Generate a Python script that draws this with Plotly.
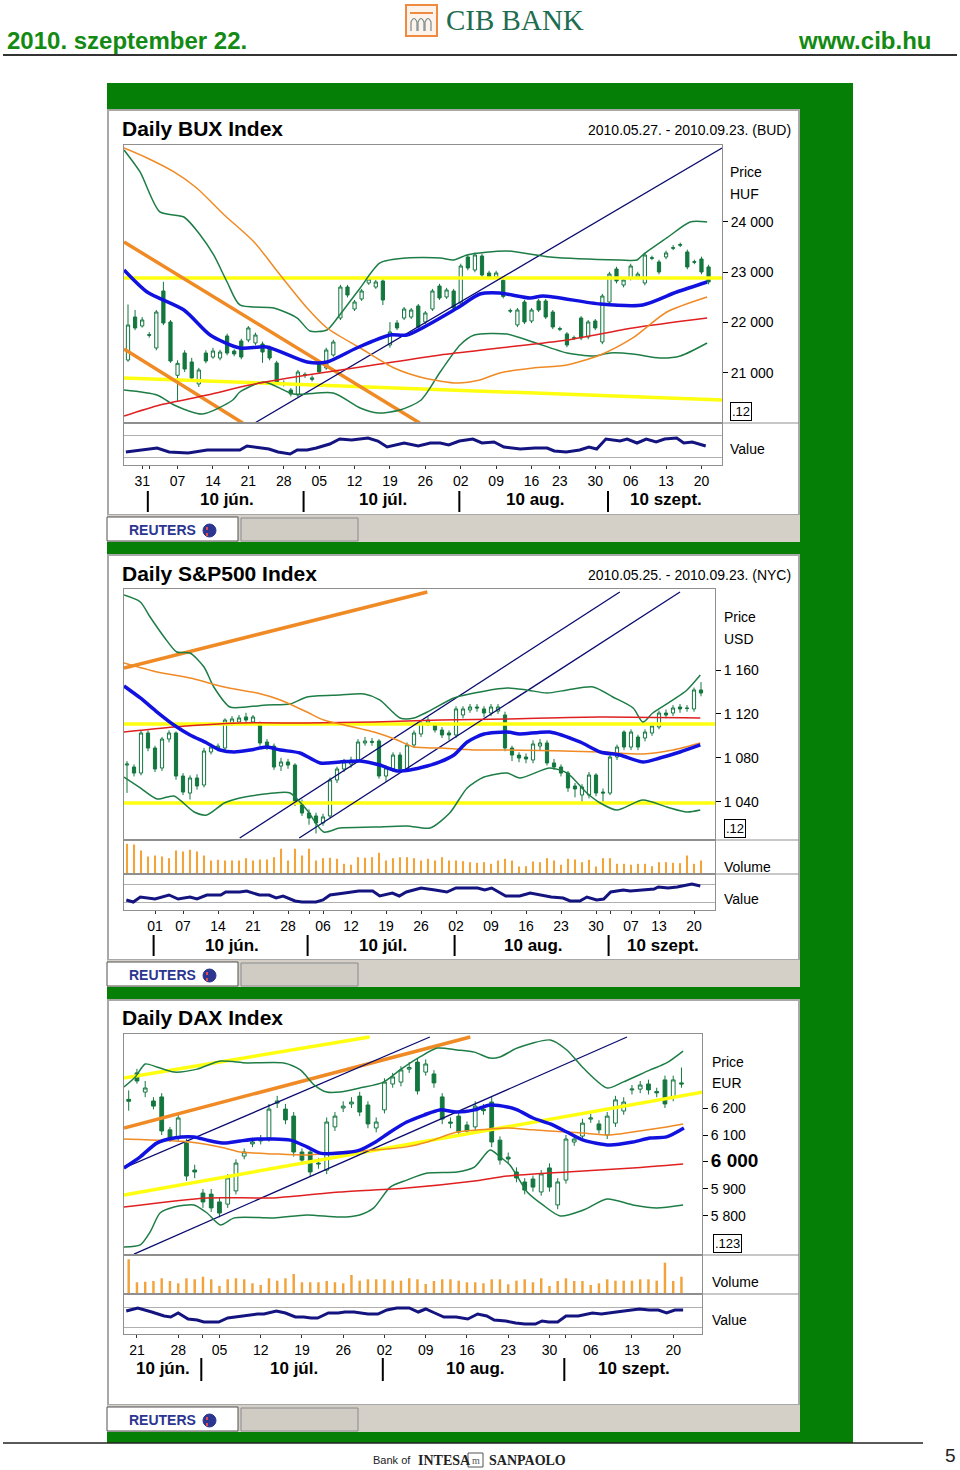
import plotly.graph_objects as go

W, H = 960, 1470
FONT = "Liberation Sans, Arial, sans-serif"
SERIF = "Liberation Serif, Times New Roman, serif"


def X(px):
    return px / W


def Y(py):
    return 1 - py / H


# ======================= BUX DATA =======================
bux_open = [21256, 22111, 21933, 21760, 21495, 22628, 22012, 20952, 21395, 21217,
            20780, 21395, 21316, 21296, 21734, 21435, 21634, 21654, 21594, 21575,
            21495, 21197, 20800, 20660, 20560, 20950, 20870, 21177, 21098, 21356,
            22091, 22707, 22270, 22469, 22787, 22707, 22827, 21555, 21992, 22091,
            22111, 22330, 22012, 22270, 22727, 22509, 22628, 22390, 23304, 23045,
            23324, 22986, 22906, 22840, 22240, 21953, 22409, 22032, 22429, 22429,
            22210, 21880, 21774, 21700, 22091, 21714, 22032, 21614, 22409, 23065,
            22747, 22886, 22906, 22787, 23290, 23205, 23304, 23490, 23550, 23404,
            23210, 23264, 23106]
bux_close = [21952, 21893, 22052, 21750, 22210, 21992, 21236, 21190, 21077, 20899,
             21058, 21236, 21435, 21415, 21395, 21376, 21316, 21893, 21753, 21415,
             21296, 20819, 20780, 20580, 21018, 20970, 20900, 21018, 21455, 21614,
             22707, 22548, 22409, 22628, 22866, 22807, 22449, 21813, 21893, 22270,
             22250, 21913, 22191, 22628, 22489, 22648, 22290, 23125, 23085, 23344,
             22946, 22906, 22986, 22520, 22230, 22250, 22012, 22250, 22250, 22111,
             21913, 21870, 21555, 21690, 21694, 22012, 21893, 22528, 22966, 22827,
             22847, 23125, 22966, 23344, 23280, 23006, 23384, 23480, 23540, 23105,
             23200, 23006, 22807]
bux_high = [22360, 22250, 22110, 21810, 22250, 22810, 22050, 21250, 21450, 21300,
            21100, 21450, 21500, 21460, 21780, 21470, 21680, 21930, 21800, 21620,
            21540, 21240, 20850, 20700, 21060, 21010, 20950, 21220, 21500, 21660,
            22750, 22750, 22450, 22670, 22910, 22850, 22870, 22010, 22050, 22310,
            22290, 22370, 22230, 22670, 22770, 22690, 22670, 23170, 23350, 23390,
            23370, 23030, 23030, 22880, 22280, 22290, 22450, 22290, 22470, 22470,
            22250, 21920, 21810, 21740, 22130, 22050, 22070, 22570, 23010, 23110,
            22890, 23170, 23010, 23390, 23330, 23250, 23430, 23540, 23590, 23450,
            23250, 23310, 23150]
bux_low = [21220, 21850, 21900, 21700, 21450, 21950, 21200, 20420, 21020, 20850,
           20720, 21190, 21280, 21250, 21350, 21330, 21270, 21610, 21550, 21200,
           21250, 20770, 20730, 20530, 20510, 20900, 20830, 20980, 21060, 21320,
           22050, 22500, 22230, 22430, 22750, 22670, 22350, 21500, 21850, 22050,
           22070, 21870, 21970, 22230, 22450, 22470, 22250, 22350, 23040, 23000,
           22900, 22870, 22870, 22480, 22190, 21910, 21970, 21990, 22210, 22070,
           21870, 21830, 21510, 21650, 21650, 21670, 21850, 21570, 22370, 22780,
           22700, 22840, 22860, 22740, 23240, 22960, 23260, 23440, 23500, 23060,
           23160, 22960, 22760]

bux_blue_x = [-0.56, 2.7, 7.9, 11.6, 15.8, 19.6, 25.3, 28.1, 32.3, 37.0, 39.4, 46.5, 49.7, 52.5, 56.8, 58.6, 66.7, 72.7, 77.5, 81.8]
bux_blue_y = [23045, 22608, 22250, 21753, 21495, 21515, 21217, 21217, 21495, 21753, 21753, 22290, 22568, 22588, 22489, 22528, 22369, 22350, 22608, 22807]
bux_orange_x = [-0.56, 2.7, 6.5, 9.7, 13.6, 17.8, 21.5, 25.3, 28.1, 32.8, 37.6, 41.8, 46.5, 49.7, 52.5, 57.2, 62.0, 66.7, 71.3, 76.1, 81.8]
bux_orange_y = [25471, 25272, 24994, 24676, 24139, 23602, 22946, 22290, 21893, 21495, 21097, 20899, 20799, 20859, 20998, 21097, 21157, 21356, 21694, 22210, 22509]
bux_red_x = [-0.56, 4.5, 11.2, 17.2, 25.3, 34.7, 44.1, 52.5, 62.0, 71.3, 81.8]
bux_red_y = [20143, 20362, 20560, 20759, 20958, 21157, 21356, 21495, 21654, 21893, 22091]
bux_up_x = [-0.56, 1.7, 4.5, 7.9, 10.2, 12.1, 14.0, 15.8, 20.6, 23.9, 25.7, 28.1, 29.9, 32.8, 35.6, 39.4, 44.1, 46.0, 47.9, 53.5, 59.6, 69.5, 71.9, 72.7, 76.1, 79.4, 81.8]
bux_up_y = [25431, 24994, 24199, 24099, 23741, 23344, 22807, 22350, 22290, 22091, 21833, 21853, 22151, 22688, 23185, 23284, 23284, 23244, 23344, 23423, 23304, 23244, 23244, 23344, 23682, 24000, 24000]
bux_lo_x = [-0.56, 4.1, 6.5, 10.5, 14.8, 15.8, 19.2, 23.4, 29.0, 32.8, 35.3, 38.4, 41.4, 44.1, 46.9, 48.9, 53.5, 57.2, 62.0, 65.7, 68.1, 71.3, 75.1, 78.0, 81.8]
bux_lo_y = [20660, 20560, 20362, 20183, 20461, 20620, 20819, 20580, 20600, 20302, 20203, 20262, 20461, 21018, 21555, 21753, 21773, 21614, 21396, 21336, 21396, 21376, 21296, 21336, 21594]
# trend lines (start/end in day index and price)
bux_yellow1 = ([-0.56, 83.9], [22886, 22886])
bux_yellow2 = ([-0.56, 83.9], [20899, 20461])
bux_orange1 = ([-0.56, 41.2], [23602, 20004])
bux_orange2 = ([-0.56, 16.2], [21475, 20004])
bux_navy1 = ([17.9, 83.9], [20004, 25471])
bux_marks = [(24000, "#1e7d46", "diamond"), (22787, "#1010e0", "diamond"), (21594, "#1e7d46", "diamond")]
bux_value_x = [-0.3, 2.4, 4.1, 5.8, 8.5, 11.2, 15.8, 16.8, 19.9, 21.2, 22.9, 23.9, 25.3, 26.6, 28.5, 29.9, 31.6, 33.9, 35.3, 36.6, 39.0, 41.0, 42.7, 44.1, 45.3, 46.8, 48.7, 50.0, 51.7, 53.1, 55.4, 57.5, 59.2, 60.2, 61.9, 63.8, 65.1, 66.2, 67.5, 69.5, 70.5, 71.9, 73.2, 74.6, 75.8, 77.5, 78.5, 79.7, 81.6]
bux_value_y = [13, 15, 17, 13, 12, 15, 15, 19, 16, 13, 11, 15, 15, 17, 21, 26, 25, 27, 24, 18, 22, 19, 22, 22, 20, 24, 26, 22, 23, 18, 16, 17, 17, 14, 13, 15, 18, 16, 26, 24, 26, 22, 26, 23, 26, 27, 22, 23, 19]
bux_tick_idx = [2, 7, 12, 17, 22, 27, 32, 37, 42, 47, 52, 57, 61, 66, 71, 76, 81]
bux_tick_txt = ["31", "07", "14", "21", "28", "05", "12", "19", "26", "02", "09", "16", "23", "30", "06", "13", "20"]
bux_month_start = [3, 25, 47, 68]
bux_price_ticks = [24000, 23000, 22000, 21000]
bux_price_text = ["24 000", "23 000", "22 000", "21 000"]

# ======================= S&P 500 DATA =======================
spx_open = [1073.4, 1071.6, 1066.1, 1102.6, 1088.9, 1070.7, 1097.1, 1102.6, 1063.4, 1047.9,
            1061.6, 1055.2, 1085.3, 1088.9, 1088.9, 1111.7, 1112.6, 1117.2, 1112.6, 1110.8,
            1094.4, 1090.7, 1072.5, 1076.2, 1073.4, 1039.7, 1029.7, 1027.0, 1020.6, 1027.0,
            1059.8, 1069.8, 1074.3, 1078.0, 1093.5, 1093.9, 1095.3, 1063.4, 1069.8, 1082.5,
            1069.8, 1091.7, 1101.7, 1111.7, 1109.9, 1105.3, 1102.6, 1100.8, 1119.0, 1123.6,
            1126.3, 1124.5, 1120.8, 1122.6, 1119.0, 1088.9, 1082.5, 1080.7, 1078.0, 1090.7,
            1093.5, 1075.3, 1071.6, 1066.1, 1054.3, 1046.1, 1046.1, 1064.3, 1048.8, 1047.9,
            1080.7, 1103.5, 1089.8, 1098.9, 1098.0, 1102.6, 1108.1, 1120.8, 1120.8, 1126.3,
            1125.4, 1124.5, 1141.8]
spx_close = [1074.3, 1066.1, 1102.6, 1088.9, 1069.8, 1097.1, 1102.6, 1063.4, 1048.8, 1061.6,
             1054.3, 1086.2, 1089.8, 1090.7, 1114.4, 1115.4, 1116.3, 1114.4, 1117.2, 1093.5,
             1089.8, 1071.6, 1076.2, 1073.4, 1038.8, 1029.7, 1025.1, 1020.6, 1026.1, 1059.8,
             1069.8, 1076.2, 1078.0, 1094.4, 1095.3, 1095.0, 1063.4, 1070.7, 1082.5, 1069.8,
             1091.7, 1102.6, 1111.7, 1114.4, 1105.3, 1100.8, 1100.8, 1124.5, 1124.5, 1126.3,
             1125.4, 1120.8, 1126.3, 1126.3, 1088.9, 1082.5, 1079.8, 1078.9, 1092.6, 1093.5,
             1075.3, 1071.6, 1066.1, 1052.5, 1051.6, 1053.4, 1064.3, 1047.9, 1047.9, 1080.7,
             1089.8, 1089.8, 1103.5, 1089.8, 1103.5, 1109.0, 1120.8, 1119.0, 1125.4, 1124.5,
             1125.0, 1141.8, 1139.0]
spx_high = [1077, 1074, 1105, 1105, 1091, 1099, 1105, 1104, 1066, 1064,
            1065, 1089, 1092, 1093, 1116, 1118, 1119, 1121, 1119, 1113,
            1097, 1093, 1080, 1079, 1075, 1042, 1033, 1030, 1029, 1062,
            1072, 1079, 1081, 1097, 1099, 1098, 1097, 1073, 1085, 1085,
            1094, 1105, 1114, 1117, 1112, 1108, 1105, 1127, 1127, 1129,
            1129, 1127, 1129, 1129, 1122, 1091, 1085, 1084, 1096, 1097,
            1096, 1079, 1074, 1068, 1057, 1056, 1067, 1066, 1052, 1083,
            1092, 1105, 1106, 1101, 1106, 1112, 1123, 1124, 1128, 1129,
            1128, 1144, 1149]
spx_low = [1048, 1063, 1064, 1086, 1067, 1068, 1094, 1060, 1046, 1042,
           1051, 1053, 1083, 1086, 1087, 1109, 1110, 1112, 1110, 1091,
           1087, 1069, 1068, 1070, 1036, 1027, 1019, 1011, 1018, 1025,
           1057, 1067, 1071, 1076, 1091, 1091, 1061, 1058, 1067, 1067,
           1067, 1089, 1099, 1109, 1103, 1098, 1096, 1098, 1116, 1121,
           1122, 1117, 1118, 1120, 1086, 1077, 1076, 1075, 1075, 1087,
           1073, 1069, 1063, 1049, 1044, 1040, 1043, 1045, 1040, 1046,
           1078, 1087, 1087, 1087, 1095, 1100, 1106, 1116, 1118, 1121,
           1122, 1122, 1136]
spx_volume = [2.97, 2.9, 2.3, 1.7, 1.8, 1.7, 1.53, 2.3, 2.2, 2.37,
              2.2, 1.8, 1.3, 1.37, 1.3, 1.3, 1.3, 1.53, 1.3, 1.4,
              1.4, 1.63, 2.47, 1.3, 2.47, 1.8, 2.47, 1.3, 1.53, 1.57,
              1.47, 0.97, 0.87, 1.63, 1.57, 1.63, 2.07, 1.3, 1.53, 1.63,
              1.63, 1.53, 1.3, 1.47, 1.3, 1.63, 1.3, 1.3, 1.23, 1.13,
              1.07, 1.13, 0.97, 1.3, 1.47, 1.3, 0.7, 0.73, 1.2, 1.13,
              1.53, 1.3, 0.87, 1.47, 1.4, 1.13, 1.37, 0.7, 1.53, 1.53,
              0.97, 0.97, 0.87, 0.97, 0.97, 0.73, 1.13, 1.13, 1.07, 1.03,
              1.8, 0.97, 1.3]
spx_blue_x = [-0.43, 1.9, 4.3, 6.7, 9.0, 11.4, 13.3, 15.3, 17.6, 20.0, 21.9, 24.7, 27.6, 30.4, 33.3, 36.1, 38.6, 40.4, 42.9, 44.7, 46.7, 48.6, 51.0, 54.3, 56.1, 60.4, 64.7, 67.6, 70.4, 73.7, 76.1, 79.0, 81.9]
spx_blue_y = [1145.4, 1134.5, 1121.7, 1109.9, 1100.8, 1093.5, 1087.1, 1085.3, 1087.1, 1089.8, 1087.1, 1084.4, 1075.3, 1076.2, 1077.1, 1073.4, 1068.0, 1068.9, 1072.5, 1076.2, 1082.5, 1094.4, 1101.7, 1103.5, 1101.7, 1103.5, 1094.4, 1085.3, 1082.5, 1076.2, 1079.8, 1085.3, 1091.7]
spx_orange_x = [-0.43, 4.3, 9.0, 13.9, 18.6, 21.9, 25.7, 28.1, 30.4, 35.3, 38.6, 41.0, 44.7, 49.6, 54.3, 67.6, 73.7, 78.0, 81.9]
spx_orange_y = [1166.4, 1158.2, 1152.7, 1144.5, 1139.0, 1132.7, 1121.7, 1114.4, 1110.8, 1103.5, 1096.2, 1089.8, 1088.9, 1087.1, 1087.1, 1085.3, 1083.5, 1087.1, 1093.5]
spx_red_x = [-0.43, 6.7, 16.1, 25.7, 35.3, 44.7, 54.3, 67.6, 81.9]
spx_red_y = [1103.5, 1108.1, 1111.7, 1111.7, 1112.6, 1114.4, 1115.4, 1117.2, 1116.3]
spx_up_x = [-0.43, 1.9, 3.3, 5.3, 7.1, 9.0, 11.0, 12.4, 14.7, 17.1, 20.0, 23.3, 25.7, 30.4, 33.9, 36.1, 39.0, 41.0, 42.9, 46.7, 49.6, 54.3, 57.1, 60.0, 62.9, 66.6, 69.4, 72.3, 73.7, 75.1, 78.0, 80.0, 81.9]
spx_up_y = [1228.3, 1222.0, 1208.3, 1190.1, 1176.4, 1175.5, 1162.7, 1144.5, 1126.3, 1126.3, 1128.1, 1129.0, 1135.4, 1137.2, 1138.1, 1132.7, 1116.3, 1116.3, 1121.7, 1134.5, 1139.0, 1143.6, 1141.8, 1139.0, 1141.8, 1144.5, 1135.4, 1125.4, 1112.6, 1120.8, 1132.7, 1141.8, 1155.4]
spx_lo_x = [-0.43, 1.9, 4.3, 6.7, 9.6, 11.4, 13.9, 16.1, 21.0, 23.3, 25.7, 28.1, 30.4, 35.3, 40.0, 43.3, 46.1, 48.6, 51.0, 54.3, 56.1, 60.4, 62.9, 65.7, 67.6, 70.0, 73.7, 77.1, 80.0, 81.9]
spx_lo_y = [1062.5, 1052.5, 1042.5, 1045.2, 1030.6, 1027.9, 1038.8, 1043.4, 1047.9, 1047.9, 1032.4, 1012.4, 1016.0, 1016.9, 1017.9, 1016.0, 1029.7, 1052.5, 1062.5, 1066.1, 1061.6, 1070.7, 1066.1, 1047.9, 1038.8, 1032.4, 1041.5, 1035.2, 1030.6, 1032.4]
spx_orange1 = ([-0.43, 42.9], [1161.8, 1231.1])
spx_yellow1 = ([-0.43, 84.0], [1110.8, 1110.8])
spx_yellow2 = ([-0.43, 84.0], [1038.8, 1038.8])
spx_navy1 = ([16.1, 70.4], [1006.9, 1231.1])
spx_navy2 = ([24.6, 79.0], [1006.9, 1231.1])
spx_marks = [(1155.4, "#1e7d46", "diamond"), (1140.0, "#1e7d46", "diamond"), (1116.3, "#e01010", "diamond"), (1092.6, "#f08a24", "diamond")]
spx_value_x = [-0.1, 0.9, 1.9, 4.0, 6.0, 7.3, 9.0, 10.0, 11.4, 13.4, 14.1, 16.1, 17.1, 18.9, 20.3, 21.3, 22.3, 24.0, 25.0, 27.0, 28.0, 29.0, 31.1, 33.1, 35.1, 36.1, 37.9, 38.9, 39.9, 42.0, 44.0, 45.7, 47.0, 50.1, 51.1, 52.1, 54.1, 56.1, 57.6, 58.9, 60.6, 62.3, 63.3, 64.7, 65.7, 67.1, 68.1, 69.1, 70.9, 71.9, 73.9, 75.3, 75.9, 77.3, 78.6, 80.7, 81.9]
spx_value_y = [10, 8, 13, 11, 15, 11, 13, 11, 15, 15, 18, 18, 19, 15, 15, 12, 14, 9, 8, 8, 10, 15, 17, 19, 19, 14, 17, 14, 18, 22, 20, 18, 22, 22, 20, 22, 14, 14, 17, 15, 13, 12, 9, 9, 13, 10, 11, 18, 20, 19, 20, 21, 23, 22, 23, 26, 24]
spx_tick_idx = [4, 8, 13, 18, 23, 28, 32, 37, 42, 47, 52, 57, 62, 67, 72, 76, 81]
spx_tick_txt = ["01", "07", "14", "21", "28", "06", "12", "19", "26", "02", "09", "16", "23", "30", "07", "13", "20"]
spx_month_start = [4, 26, 47, 69]
spx_price_ticks = [1160, 1120, 1080, 1040]
spx_price_text = ["1 160", "1 120", "1 080", "1 040"]

# ======================= DAX DATA =======================
dax_open = [6232, 6330, 6259, 6226, 6241, 6119, 6089, 6070, 5970, 5885,
            5881, 5852, 5844, 5893, 6022, 6067, 6078, 6089, 6218, 6196,
            6170, 6037, 6037, 5996, 5970, 6130, 6200, 6215, 6244, 6211,
            6126, 6193, 6289, 6296, 6344, 6370, 6333, 6326, 6241, 6148,
            6170, 6137, 6130, 6196, 6222, 6081, 6018, 5963, 5926, 5937,
            5889, 5978, 5841, 5933, 6074, 6096, 6159, 6141, 6100, 6144,
            6189, 6267, 6270, 6289, 6261, 6304, 6241, 6293]
dax_close = [6225, 6300, 6274, 6207, 6115, 6089, 6163, 5948, 5963, 5852,
             5830, 5811, 5941, 5996, 6037, 6074, 6085, 6196, 6226, 6156,
             6037, 6007, 5963, 5993, 6148, 6170, 6207, 6222, 6185, 6141,
             6148, 6296, 6315, 6341, 6350, 6263, 6363, 6293, 6159, 6144,
             6111, 6115, 6207, 6190, 6074, 6007, 6011, 5941, 5896, 5907,
             5956, 5907, 5926, 6085, 6085, 6144, 6163, 6119, 6170, 6230,
             6222, 6270, 6285, 6267, 6256, 6215, 6304, 6289]
dax_high = [6265, 6345, 6300, 6240, 6255, 6130, 6180, 6085, 5990, 5900,
            5900, 5870, 5955, 6010, 6050, 6090, 6100, 6215, 6245, 6215,
            6185, 6050, 6050, 6015, 6165, 6185, 6225, 6240, 6260, 6225,
            6165, 6310, 6330, 6355, 6370, 6385, 6380, 6340, 6255, 6165,
            6185, 6150, 6225, 6215, 6240, 6095, 6035, 5980, 5940, 5950,
            5970, 5995, 5940, 6100, 6100, 6160, 6180, 6155, 6185, 6245,
            6240, 6285, 6300, 6305, 6275, 6320, 6320, 6350]
dax_low = [6190, 6290, 6240, 6195, 6100, 6075, 6075, 5930, 5940, 5830,
           5815, 5795, 5830, 5880, 6010, 6055, 6065, 6075, 6200, 6140,
           6020, 5990, 5945, 5975, 5955, 6115, 6185, 6200, 6170, 6125,
           6110, 6180, 6275, 6280, 6330, 6250, 6320, 6275, 6140, 6125,
           6095, 6100, 6115, 6175, 6055, 5990, 5995, 5925, 5880, 5890,
           5875, 5890, 5825, 5920, 6060, 6080, 6145, 6105, 6085, 6130,
           6175, 6250, 6255, 6250, 6240, 6200, 6225, 6275]
dax_volume = [3.37, 1.07, 1.13, 1.2, 1.47, 1.2, 0.97, 1.47, 1.37, 1.63,
              1.37, 0.7, 1.37, 1.47, 1.37, 0.97, 0.8, 1.47, 1.23, 1.47,
              1.9, 1.07, 1.07, 1.07, 1.2, 1.07, 0.97, 1.8, 1.23, 1.37,
              1.37, 1.37, 1.23, 1.23, 1.47, 1.37, 0.9, 1.2, 1.37, 1.37,
              1.23, 1.07, 1.07, 0.97, 1.37, 1.37, 0.87, 1.23, 1.37, 1.07,
              1.47, 0.7, 1.2, 1.47, 1.2, 1.2, 0.8, 0.97, 1.37, 1.23,
              1.23, 1.23, 1.37, 1.37, 1.23, 3.03, 1.2, 1.63]
dax_blue_x = [-0.57, 1.4, 3.4, 5.5, 7.9, 9.5, 11.6, 13.5, 15.6, 19.6, 21.6, 23.2, 25.6, 28.0, 29.7, 31.7, 33.7, 35.8, 37.7, 39.8, 41.9, 43.8, 45.9, 47.1, 49.0, 51.1, 53.1, 55.1, 58.3, 61.1, 63.2, 65.2, 67.3]
dax_blue_y = [5978, 6019, 6070, 6089, 6093, 6081, 6070, 6078, 6085, 6081, 6056, 6033, 6033, 6044, 6070, 6111, 6148, 6174, 6193, 6185, 6193, 6211, 6204, 6193, 6163, 6141, 6111, 6081, 6063, 6074, 6089, 6093, 6126]
dax_orange_x = [-0.57, 3.4, 7.4, 11.6, 13.5, 17.6, 21.6, 25.6, 29.7, 33.7, 36.2, 39.8, 43.8, 45.9, 49.0, 53.1, 55.1, 58.3, 61.1, 65.2, 67.2]
dax_orange_y = [6085, 6081, 6074, 6052, 6037, 6030, 6026, 6037, 6044, 6056, 6074, 6111, 6122, 6126, 6119, 6111, 6107, 6100, 6111, 6130, 6141]
dax_red_x = [-0.57, 9.5, 17.6, 25.6, 33.7, 41.9, 45.9, 53.1, 61.1, 67.2]
dax_red_y = [5833, 5867, 5867, 5889, 5904, 5930, 5948, 5963, 5978, 5993]
dax_up_x = [-0.57, 0.8, 2.0, 3.4, 5.5, 8.3, 11.1, 14.3, 18.8, 20.8, 22.5, 24.0, 25.6, 28.0, 30.9, 32.9, 35.3, 37.4, 39.8, 41.9, 43.8, 45.0, 47.1, 51.1, 53.1, 55.1, 58.0, 59.9, 63.2, 65.2, 67.2]
dax_up_y = [6278, 6315, 6363, 6352, 6333, 6344, 6374, 6367, 6367, 6341, 6285, 6259, 6259, 6274, 6296, 6341, 6389, 6422, 6415, 6407, 6385, 6389, 6422, 6452, 6415, 6348, 6274, 6296, 6341, 6367, 6411]
dax_lo_x = [-0.57, 1.4, 2.6, 3.8, 5.5, 7.9, 9.5, 11.1, 12.8, 17.6, 21.6, 25.6, 28.0, 29.7, 31.7, 33.7, 36.2, 39.8, 41.9, 43.8, 45.0, 46.2, 48.3, 50.2, 52.3, 55.1, 58.0, 61.1, 64.0, 67.2]
dax_lo_y = [5685, 5693, 5741, 5811, 5833, 5841, 5811, 5767, 5793, 5793, 5804, 5796, 5804, 5830, 5907, 5933, 5959, 5963, 5981, 6044, 6019, 5989, 5889, 5841, 5800, 5822, 5863, 5841, 5830, 5841]
dax_yellow1 = ([-0.57, 29.2], [6311, 6463])
dax_orange1 = ([-0.57, 41.4], [6126, 6463])
dax_navy1 = ([-0.57, 36.5], [5978, 6463])
dax_navy2 = ([0.64, 60.4], [5659, 6463])
dax_yellow2 = ([-0.57, 69.6], [5878, 6259])
dax_marks = [(6144, "#f08a24", "diamond"), (6115, "#1010e0", "triangle-down"), (5993, "#e01010", "diamond"), (5841, "#1e7d46", "diamond")]
dax_value_x = [-0.3, 1.1, 2.8, 4.3, 5.1, 6.0, 7.2, 8.3, 9.1, 10.9, 12.0, 14.1, 15.6, 16.4, 17.9, 19.0, 20.2, 21.2, 22.1, 22.9, 24.2, 25.4, 26.2, 27.3, 29.0, 30.2, 31.3, 32.5, 34.0, 35.1, 36.0, 37.1, 38.2, 39.7, 41.1, 42.3, 43.4, 44.3, 45.7, 46.9, 48.0, 49.3, 50.1, 50.9, 52.0, 53.0, 54.5, 56.2, 57.3, 59.1, 60.2, 61.9, 63.1, 64.2, 65.2, 66.2, 67.2]
dax_value_y = [23, 26, 22, 18, 17, 21, 15, 14, 12, 12, 16, 18, 20, 20, 23, 21, 17, 17, 16, 16, 21, 21, 22, 22, 20, 20, 24, 26, 26, 22, 25, 21, 17, 17, 15, 20, 18, 14, 13, 11, 10, 10, 13, 12, 12, 18, 18, 21, 20, 22, 23, 25, 24, 24, 21, 24, 24]
dax_tick_idx = [1, 6, 11, 16, 21, 26, 31, 36, 41, 46, 51, 56, 61, 66]
dax_tick_txt = ["21", "28", "05", "12", "19", "26", "02", "09", "16", "23", "30", "06", "13", "20"]
dax_month_start = [9, 31, 53]
dax_price_ticks = [6200, 6100, 6000, 5900, 5800]
dax_price_text = ["6 200", "6 100", "<b><span style='font-size:19px'>6 000</span></b>", "5 900", "5 800"]

month_names = ["10 jún.", "10 júl.", "10 aug.", "10 szept."]

# ======================= STYLES =======================
CG = "#13773f"        # candle green
BAND = "#1e7d46"
BLUE = "#1212e0"
ORANGE = "#f08a24"
RED = "#e02020"
YELLOW = "#ffff10"
NAVY = "#0b0b70"
BORDER = "#8f8f8f"
GREEN_BG = "#057f05"

fig = go.Figure()
shapes = []
ann = []


def rect(x0, y0, x1, y1, fill, line=None, lw=0):
    shapes.append(dict(type="rect", xref="paper", yref="paper", x0=X(x0), x1=X(x1), y0=Y(y1), y1=Y(y0),
                       fillcolor=fill, line=dict(color=line or fill, width=lw), layer="below"))


def hline(x0, x1, y, color, w=1, layer="above"):
    shapes.append(dict(type="line", xref="paper", yref="paper", x0=X(x0), x1=X(x1), y0=Y(y), y1=Y(y),
                       line=dict(color=color, width=w), layer=layer))


def text(x, y, s, size, color="black", anchor="left", family=FONT, **kw):
    ann.append(dict(x=X(x), y=Y(y), xref="paper", yref="paper", text=s, showarrow=False,
                    xanchor=anchor, yanchor="middle", font=dict(size=size, color=color, family=family), **kw))


def add_line(xa, ya, xs, ys, color, width, spline=False):
    ln = dict(color=color, width=width)
    if spline:
        ln.update(shape="spline", smoothing=0.7)
    fig.add_trace(go.Scatter(x=xs, y=ys, mode="lines", line=ln, xaxis=xa, yaxis=ya,
                             showlegend=False, hoverinfo="skip"))


def add_price(xa, ya, o, h, l, c, blue, orange, red, up, lo, trends, marks, mark_x):
    for (tx, ty), col, w in trends:
        add_line(xa, ya, tx, ty, col, w)
    add_line(xa, ya, up[0], up[1], BAND, 1.5, True)
    add_line(xa, ya, lo[0], lo[1], BAND, 1.5, True)
    add_line(xa, ya, red[0], red[1], RED, 1.5, True)
    add_line(xa, ya, orange[0], orange[1], ORANGE, 1.5, True)
    fig.add_trace(go.Candlestick(x=list(range(len(o))), open=o, high=h, low=l, close=c,
                                 xaxis=xa, yaxis=ya, whiskerwidth=0,
                                 increasing=dict(line=dict(color=CG, width=1), fillcolor="white"),
                                 decreasing=dict(line=dict(color=CG, width=1), fillcolor=CG),
                                 showlegend=False, hoverinfo="skip"))
    add_line(xa, ya, blue[0], blue[1], BLUE, 3.5, True)
    for v, col, sym in marks:
        fig.add_trace(go.Scatter(x=[mark_x], y=[v], mode="markers", cliponaxis=False,
                                 marker=dict(symbol=sym, size=10, color=col),
                                 xaxis=xa, yaxis=ya, showlegend=False, hoverinfo="skip"))


def add_value(xa, ya, xs, ys):
    add_line(xa, ya, xs, ys, "#141480", 3)


def add_volume(xa, ya, vols):
    fig.add_trace(go.Bar(x=list(range(len(vols))), y=vols, width=0.3, marker=dict(color="#f2a33a", line=dict(width=0)),
                         xaxis=xa, yaxis=ya, showlegend=False, hoverinfo="skip"))


layout_axes = {}


def xaxis_cfg(name, left, right, rng, anchor, **kw):
    d = dict(domain=[X(left), X(right)], range=rng, anchor=anchor, showgrid=False, zeroline=False,
             showline=True, mirror=True, linecolor=BORDER, linewidth=1, showticklabels=False,
             ticks="", fixedrange=True)
    d.update(kw)
    layout_axes[name] = d


def yaxis_cfg(name, top, bottom, rng, anchor, **kw):
    d = dict(domain=[Y(bottom), Y(top)], range=rng, anchor=anchor, showgrid=False, zeroline=False,
             showline=True, mirror=True, linecolor=BORDER, linewidth=1, showticklabels=False,
             ticks="", side="right", fixedrange=True)
    d.update(kw)
    layout_axes[name] = d


def bottom_ticks(tick_idx, tick_txt, month_start):
    vals = list(tick_idx)
    txt = list(tick_txt)
    for m in month_start:
        if m not in vals:
            vals.append(m)
            txt.append("")
    return dict(tickmode="array", tickvals=vals, ticktext=txt, ticks="outside", ticklen=3,
                tickcolor="#333", showticklabels=True, tickfont=dict(size=14, color="black", family=FONT))


def price_ticks(vals, txt):
    return dict(tickmode="array", tickvals=vals, ticktext=txt, ticks="outside", ticklen=5,
                tickcolor="black", showticklabels=True, tickfont=dict(size=14, color="black", family=FONT))


def months(xref, month_start, rng_end, rng_start, y_lab, y0, y1, names):
    starts = list(month_start)
    ends = starts[1:] + [rng_end]
    if len(starts) < len(names):
        starts = [rng_start] + starts
        ends = [month_start[0]] + ends
    for s, e, nm in zip(starts, ends, names[-len(starts):]):
        ann.append(dict(x=(s + e) / 2, y=Y(y_lab), xref=xref, yref="paper", text="<b>" + nm + "</b>",
                        showarrow=False, xanchor="center", yanchor="middle",
                        font=dict(size=17, color="black", family=FONT)))
    for b in month_start:
        shapes.append(dict(type="line", xref=xref, yref="paper", x0=b - 0.2, x1=b - 0.2, y0=Y(y1), y1=Y(y0),
                           line=dict(color="black", width=2)))


# ======================= PAGE DECORATION =======================
hline(3, 957, 55, "#333333", 2)
hline(3, 923, 1443, "#222222", 1.5)
rect(107, 83, 853, 1443, GREEN_BG)

panel_tops = [110, 555, 1000]
for t in panel_tops:
    rect(108, t, 799, t + 405, "white", "#a8a8a8", 2)
    rect(107, t + 405, 800, t + 432, "#d4d0c8")
    rect(107, t + 407, 238, t + 431, "white", "#505050", 1)
    rect(241, t + 408, 358, t + 431, "#d0ccc4", "#8a8a8a", 1)
    text(127, t + 420, "<b>REUTERS</b>", 14, "#2c3590")
    shapes.append(dict(type="circle", xref="paper", yref="paper", x0=X(203), x1=X(216), y0=Y(t + 427), y1=Y(t + 414),
                       fillcolor="#2c3590", line=dict(color="#2c3590", width=1)))
    shapes.append(dict(type="line", xref="paper", yref="paper", x0=X(207), x1=X(207), y0=Y(t + 426), y1=Y(t + 415),
                       line=dict(color="#e05050", width=2, dash="dot")))

# header
text(5, 40, "<b>2010. szeptember 22.</b>", 24, "#138a13")
text(933, 40, "<b>www.cib.hu</b>", 24, "#138a13", anchor="right")
text(444, 20, "CIB BANK", 29, "#1f6d50", family=SERIF)
rect(406, 5, 437, 36, "#fdf3ea", "#f08a40", 2)
shapes.append(dict(type="line", xref="paper", yref="paper", x0=X(410), x1=X(433), y0=Y(13), y1=Y(13),
                   line=dict(color="#f08a40", width=2)))
for ax0 in (411, 418, 425):
    shapes.append(dict(type="path", xref="paper", yref="paper",
                       path="M %f,%f L %f,%f Q %f,%f %f,%f L %f,%f" % (
                           X(ax0), Y(31), X(ax0), Y(22), X(ax0 + 3), Y(15), X(ax0 + 6), Y(22), X(ax0 + 6), Y(31)),
                       line=dict(color="#7a8a90", width=1.2)))
# footer
text(371, 1460, "Bank of", 11, "#222")
text(416, 1460, "<b>INTESA</b>", 14, "#222", family=SERIF)
rect(468, 1453, 483, 1467, "white", "#555", 1)
text(475.5, 1460, "m", 10, "#555", anchor="center", family=SERIF)
text(487, 1460, "<b>SANPAOLO</b>", 14, "#222", family=SERIF)
text(950, 1455, "5", 19, "#222", anchor="center")

# ======================= BUX CHART =======================
bux_xr = [-0.565, 83.9]
xaxis_cfg("xaxis", 124, 722, bux_xr, "y", rangeslider=dict(visible=False))
yaxis_cfg("yaxis", 145, 423, [20004, 25530], "x", **price_ticks(bux_price_ticks, bux_price_text))
xaxis_cfg("xaxis2", 124, 722, bux_xr, "y2", **bottom_ticks(bux_tick_idx, bux_tick_txt, bux_month_start))
yaxis_cfg("yaxis2", 423, 465, [0, 42], "x2", showgrid=True, gridcolor="#b0b0b0", tickmode="array", tickvals=[8, 30])
add_price("x", "y", bux_open, bux_high, bux_low, bux_close,
          (bux_blue_x, bux_blue_y), (bux_orange_x, bux_orange_y), (bux_red_x, bux_red_y),
          (bux_up_x, bux_up_y), (bux_lo_x, bux_lo_y),
          [(bux_yellow1, YELLOW, 3.5), (bux_yellow2, YELLOW, 3.5), (bux_orange1, ORANGE, 3.5),
           (bux_orange2, ORANGE, 3.5), (bux_navy1, NAVY, 1.3)],
          bux_marks, 84.7)
add_value("x2", "y2", bux_value_x, bux_value_y)
hline(722, 799, 423, BORDER, 1)
text(120, 128, "<b>Daily BUX Index</b>", 21)
text(793, 130, "2010.05.27. - 2010.09.23. (BUD)", 14, anchor="right")
text(728, 172, "Price", 14)
text(728, 194, "HUF", 14)
text(728, 449, "Value", 14)
text(741, 411, ".12", 13, anchor="center", bordercolor="black", borderwidth=1, borderpad=1)
months("x2", bux_month_start, bux_xr[1], bux_xr[0], 500, 491, 512, month_names)

# ======================= S&P CHART =======================
spx_xr = [-0.43, 84.0]
xaxis_cfg("xaxis3", 124, 715, spx_xr, "y3", rangeslider=dict(visible=False))
yaxis_cfg("yaxis3", 589, 840, [1005.1, 1233.8], "x3", **price_ticks(spx_price_ticks, spx_price_text))
xaxis_cfg("xaxis4", 124, 715, spx_xr, "y4")
yaxis_cfg("yaxis4", 840, 874, [-0.05, 3.35], "x4")
xaxis_cfg("xaxis5", 124, 715, spx_xr, "y5", **bottom_ticks(spx_tick_idx, spx_tick_txt, spx_month_start))
yaxis_cfg("yaxis5", 874, 910, [0, 36], "x5", showgrid=True, gridcolor="#b0b0b0", tickmode="array", tickvals=[8, 26])
add_price("x3", "y3", spx_open, spx_high, spx_low, spx_close,
          (spx_blue_x, spx_blue_y), (spx_orange_x, spx_orange_y), (spx_red_x, spx_red_y),
          (spx_up_x, spx_up_y), (spx_lo_x, spx_lo_y),
          [(spx_yellow1, YELLOW, 3.5), (spx_yellow2, YELLOW, 3.5), (spx_orange1, ORANGE, 3.5),
           (spx_navy1, NAVY, 1.3), (spx_navy2, NAVY, 1.3)],
          spx_marks, 85.0)
add_volume("x4", "y4", spx_volume)
add_value("x5", "y5", spx_value_x, spx_value_y)
hline(715, 799, 840, BORDER, 1)
hline(715, 799, 874, BORDER, 1)
text(120, 573, "<b>Daily S&P500 Index</b>", 21)
text(793, 575, "2010.05.25. - 2010.09.23. (NYC)", 14, anchor="right")
text(722, 617, "Price", 14)
text(722, 639, "USD", 14)
text(722, 867, "Volume", 14)
text(722, 899, "Value", 14)
text(735, 828, ".12", 13, anchor="center", bordercolor="black", borderwidth=1, borderpad=1)
months("x5", spx_month_start, spx_xr[1], spx_xr[0], 945, 935, 956, month_names)

# ======================= DAX CHART =======================
dax_xr = [-0.57, 69.49]
xaxis_cfg("xaxis6", 124, 702, dax_xr, "y6", rangeslider=dict(visible=False))
yaxis_cfg("yaxis6", 1034, 1255, [5655.5, 6474.1], "x6", **price_ticks(dax_price_ticks, dax_price_text))
xaxis_cfg("xaxis7", 124, 702, dax_xr, "y7")
yaxis_cfg("yaxis7", 1255, 1294, [-0.1, 3.8], "x7")
xaxis_cfg("xaxis8", 124, 702, dax_xr, "y8", **bottom_ticks(dax_tick_idx, dax_tick_txt, dax_month_start))
yaxis_cfg("yaxis8", 1294, 1334, [0, 40], "x8", showgrid=True, gridcolor="#b0b0b0", tickmode="array", tickvals=[7, 27])
add_price("x6", "y6", dax_open, dax_high, dax_low, dax_close,
          (dax_blue_x, dax_blue_y), (dax_orange_x, dax_orange_y), (dax_red_x, dax_red_y),
          (dax_up_x, dax_up_y), (dax_lo_x, dax_lo_y),
          [(dax_yellow1, YELLOW, 3.5), (dax_yellow2, YELLOW, 3.5), (dax_orange1, ORANGE, 3.5),
           (dax_navy1, NAVY, 1.3), (dax_navy2, NAVY, 1.3)],
          dax_marks, 70.2)
add_volume("x7", "y7", dax_volume)
add_value("x8", "y8", dax_value_x, dax_value_y)
hline(702, 799, 1255, BORDER, 1)
hline(702, 799, 1294, BORDER, 1)
text(120, 1017, "<b>Daily DAX Index</b>", 21)
text(710, 1062, "Price", 14)
text(710, 1083, "EUR", 14)
text(710, 1282, "Volume", 14)
text(710, 1320, "Value", 14)
text(727, 1243, ".123", 13, anchor="center", bordercolor="black", borderwidth=1, borderpad=1)
months("x8", dax_month_start, dax_xr[1], dax_xr[0], 1368, 1358, 1381, month_names)

fig.update_layout(
    width=W, height=H, margin=dict(l=0, r=0, t=0, b=0),
    paper_bgcolor="white", plot_bgcolor="rgba(0,0,0,0)",
    showlegend=False, hovermode=False, boxgap=0.35,
    font=dict(family=FONT, color="black"),
    shapes=shapes, annotations=ann, **layout_axes,
)
fig.write_html("out.html")
